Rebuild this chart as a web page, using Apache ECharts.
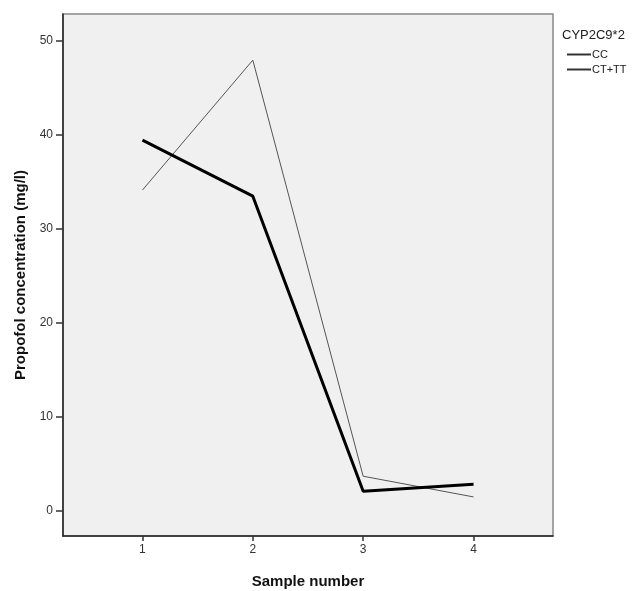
<!DOCTYPE html>
<html><head><meta charset="utf-8">
<script src="https://cdn.jsdelivr.net/npm/echarts@6/dist/echarts.min.js"></script>
<style>html,body{margin:0;padding:0;background:#fff}#c{width:636px;height:591px}</style>
</head><body><div id="c"></div>
<script>
var samples = [1, 2, 3, 4];
var yTicks = [0, 10, 20, 30, 40, 50];
var seriesNames = ['CC', 'CT+TT'];
var ccValues = [34.1, 47.9, 3.7, 1.5];
var cttValues = [39.4, 33.45, 2.1, 2.85];

function pairs(vals){ return samples.map(function(s,i){ return [s, vals[i]]; }); }

var chart = echarts.init(document.getElementById('c'));
chart.setOption({
  backgroundColor: '#fff',
  animation: false,
  title: {
    text: 'CYP2C9*2', left: 557, top: 24,
    textStyle: {fontFamily: 'Liberation Sans', fontSize: 13, fontWeight: 'normal', color: '#222'}
  },
  legend: {
    orient: 'vertical', left: 562, top: 44, itemWidth: 24, itemHeight: 2, itemGap: 4,
    icon: 'rect',
    data: seriesNames,
    itemStyle: {color: '#333'},
    textStyle: {fontFamily: 'Liberation Sans', fontSize: 11, color: '#222', padding: [0,0,0,-4]}
  },
  grid: {
    left: 63, top: 14, right: 83, bottom: 55, show: true, outerBoundsMode: 'none',
    backgroundColor: '#f0f0f0', borderColor: '#888', borderWidth: 1.5
  },
  xAxis: {
    type: 'value', min: 0.28, max: 4.72,
    name: 'Sample number', nameLocation: 'middle', nameGap: 38,
    nameTextStyle: {fontFamily: 'Liberation Sans', fontSize: 15, fontWeight: 'bold', color: '#111'},
    axisLine: {show: true, onZero: false, lineStyle: {color: '#222', width: 1.5}},
    axisTick: {show: true, length: 5, customValues: samples, lineStyle: {color: '#333', width: 1.5}},
    axisLabel: {customValues: samples, fontFamily: 'Liberation Sans', fontSize: 12, color: '#333', margin: 8},
    splitLine: {show: false}
  },
  yAxis: {
    type: 'value', min: -2.65, max: 52.8,
    name: 'Propofol concentration (mg/l)', nameLocation: 'middle', nameGap: 35,
    nameTextStyle: {fontFamily: 'Liberation Sans', fontSize: 15, fontWeight: 'bold', color: '#111'},
    axisLine: {show: true, onZero: false, lineStyle: {color: '#222', width: 1.5}},
    axisTick: {show: true, length: 7, customValues: yTicks, lineStyle: {color: '#333', width: 1.5}},
    axisLabel: {customValues: yTicks, fontFamily: 'Liberation Sans', fontSize: 12, color: '#333', margin: 10},
    splitLine: {show: false}
  },
  series: [
    {name: seriesNames[0], type: 'line', data: pairs(ccValues), showSymbol: false, symbol: 'none',
     lineStyle: {color: '#555', width: 1}, itemStyle: {color: '#444'}},
    {name: seriesNames[1], type: 'line', data: pairs(cttValues), showSymbol: false, symbol: 'none',
     lineStyle: {color: '#000', width: 3}, itemStyle: {color: '#444'}}
  ]
});
</script></body></html>
